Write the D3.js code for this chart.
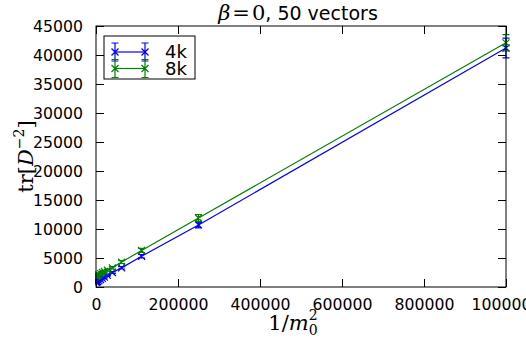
<!DOCTYPE html>
<html>
<head>
<meta charset="utf-8">
<script src="https://cdn.jsdelivr.net/npm/d3@7"></script>
<style>
  body { margin: 0; background: #fff; }
  svg { display: block; }
  .tick text { font-family: "DejaVu Sans", sans-serif; font-size: 15.7px; fill: #000; }
</style>
</head>
<body>
<div id="chart"></div>
<script>
// 1/m0^2 values
var xVals = [1000000, 250000, 111111, 62500, 40000, 27778, 20408, 15625, 11111, 6944, 4000, 2500, 1000, 400];

// tr[D^-2], 4k lattice
var blueVals = [41200, 10700, 5300, 3300, 2500, 2000, 1700, 1500, 1300, 1100, 950, 900, 850, 800];
var blueErr  = [1700, 500, 300, 200, 160, 130, 110, 100, 90, 80, 70, 60, 60, 50];

// tr[D^-2], 8k lattice
var greenVals = [42100, 11900, 6300, 4300, 3300, 2900, 2700, 2500, 2300, 2100, 2000, 1950, 1900, 1850];
var greenErr  = [1400, 600, 350, 250, 200, 170, 150, 140, 130, 120, 110, 100, 100, 100];

var xTicks = [0, 200000, 400000, 600000, 800000, 1000000];
var yTicks = [0, 5000, 10000, 15000, 20000, 25000, 30000, 35000, 40000, 45000];

var series = [
    {name: "4k", color: "#0000ff", vals: blueVals, err: blueErr},
    {name: "8k", color: "#008000", vals: greenVals, err: greenErr}
];

var W = 526, H = 340;
var margin = {top: 26, right: 20, bottom: 53, left: 96};
var w = W - margin.left - margin.right,
    h = H - margin.top - margin.bottom;

var svg = d3.select("#chart").append("svg")
    .attr("width", W)
    .attr("height", H);

var g = svg.append("g")
    .attr("transform", "translate(" + margin.left + "," + margin.top + ")");

var x = d3.scaleLinear().domain([0, 1000000]).range([0, w]);
var y = d3.scaleLinear().domain([0, 45000]).range([h, 0]);

var tickLen = 8;

// axes, ticks pointing inward
g.append("g")
    .attr("transform", "translate(0," + h + ")")
    .call(d3.axisBottom(x).tickValues(xTicks).tickSize(-tickLen).tickPadding(tickLen + 4).tickFormat(d3.format("d")))
    .call(function(s) { s.select(".domain").remove(); });
g.append("g")
    .call(d3.axisTop(x).tickValues(xTicks).tickSize(-tickLen).tickFormat(""))
    .call(function(s) { s.select(".domain").remove(); });
g.append("g")
    .call(d3.axisLeft(y).tickValues(yTicks).tickSize(-tickLen).tickPadding(tickLen + 5).tickFormat(d3.format("d")))
    .call(function(s) { s.select(".domain").remove(); });
g.append("g")
    .attr("transform", "translate(" + w + ",0)")
    .call(d3.axisRight(y).tickValues(yTicks).tickSize(-tickLen).tickFormat(""))
    .call(function(s) { s.select(".domain").remove(); });

g.selectAll(".tick line").attr("stroke", "#000").attr("stroke-width", 1);

// clip for data
g.append("clipPath").attr("id", "clip")
    .append("rect").attr("x", -1).attr("y", -8).attr("width", w + 8).attr("height", h + 9);

var data = g.append("g").attr("clip-path", "url(#clip)");

var line = d3.line()
    .x(function(d) { return x(d[0]); })
    .y(function(d) { return y(d[1]); });

var cap = 3.5, mk = 3.5;

series.forEach(function(s) {
    var pts = xVals.map(function(xv, i) { return [xv, s.vals[i], s.err[i]]; });
    var sg = data.append("g");
    sg.append("path")
        .datum(pts)
        .attr("d", line)
        .attr("fill", "none")
        .attr("stroke", s.color)
        .attr("stroke-width", 1.2);
    var p = sg.selectAll(".pt").data(pts).enter().append("g")
        .attr("transform", function(d) { return "translate(" + x(d[0]) + "," + y(d[1]) + ")"; });
    p.append("path")
        .attr("d", function(d) {
            var top = y(d[1] + d[2]) - y(d[1]), bot = y(d[1] - d[2]) - y(d[1]);
            return "M0," + top + "V" + bot +
                "M" + (-cap) + "," + top + "H" + cap +
                "M" + (-cap) + "," + bot + "H" + cap +
                "M" + (-mk) + "," + (-mk) + "L" + mk + "," + mk +
                "M" + (-mk) + "," + mk + "L" + mk + "," + (-mk);
        })
        .attr("fill", "none")
        .attr("stroke", s.color)
        .attr("stroke-width", 1.2);
});

// frame
g.append("rect")
    .attr("width", w).attr("height", h)
    .attr("fill", "none").attr("stroke", "#000").attr("stroke-width", 1);

// legend
var lg = g.append("g").attr("transform", "translate(8,10)");
lg.append("rect")
    .attr("width", 91).attr("height", 43)
    .attr("fill", "#fff").attr("stroke", "#000").attr("stroke-width", 1);
series.forEach(function(s, i) {
    var ly = 16 + i * 16.5;
    var e = lg.append("g").attr("transform", "translate(0," + ly + ")");
    e.append("line").attr("x1", 11).attr("x2", 41).attr("y1", 0).attr("y2", 0)
        .attr("stroke", s.color).attr("stroke-width", 1.2);
    [11, 41].forEach(function(cx) {
        e.append("path")
            .attr("d", "M" + cx + ",-9V9M" + (cx - cap) + ",-9H" + (cx + cap) + "M" + (cx - cap) + ",9H" + (cx + cap) +
                "M" + (cx - mk) + "," + (-mk) + "L" + (cx + mk) + "," + mk +
                "M" + (cx - mk) + "," + mk + "L" + (cx + mk) + "," + (-mk))
            .attr("fill", "none").attr("stroke", s.color).attr("stroke-width", 1.2);
    });
    e.append("text").attr("x", 61).attr("y", 6)
        .style("font-family", "DejaVu Sans, sans-serif").style("font-size", "18px")
        .text(s.name);
});

// title
var title = svg.append("text")
    .attr("x", 298).attr("y", 20)
    .attr("text-anchor", "middle")
    .style("font-size", "19px");
title.append("tspan").style("font-family", "DejaVu Serif, serif").style("font-style", "italic").style("font-size", "21px").text("β");
title.append("tspan").attr("dx", 2).style("font-family", "DejaVu Serif, serif").style("font-size", "21px").text("=");
title.append("tspan").attr("dx", 2).style("font-family", "DejaVu Serif, serif").style("font-size", "21px").text("0");
title.append("tspan").style("font-family", "DejaVu Sans, sans-serif").text(", 50 vectors");

// x label (superscript stacked over the subscript)
var xl = svg.append("text")
    .attr("x", margin.left + w / 2 - 8).attr("y", 330)
    .attr("text-anchor", "middle")
    .style("font-family", "DejaVu Serif, serif").style("font-size", "21px");
xl.append("tspan").text("1/");
xl.append("tspan").style("font-style", "italic").text("m");
var xsub = xl.append("tspan").attr("dy", 5).style("font-size", "14px").text("0");
var xsup = xl.append("tspan").attr("dy", -15).style("font-size", "14px").text("2");
var subX = xsub.node().getStartPositionOfChar(0).x;
var supX = xsup.node().getStartPositionOfChar(0).x;
xsup.attr("dx", subX - supX);

// y label
var yl = svg.append("text")
    .attr("transform", "translate(33," + (margin.top + h / 2) + ") rotate(-90)")
    .attr("text-anchor", "middle")
    .style("font-family", "DejaVu Serif, serif").style("font-size", "21px");
yl.append("tspan").text("tr[");
yl.append("tspan").style("font-style", "italic").text("D");
yl.append("tspan").attr("dy", -9).style("font-size", "14px").text("−2");
yl.append("tspan").attr("dy", 9).text("]");
</script>
</body>
</html>
